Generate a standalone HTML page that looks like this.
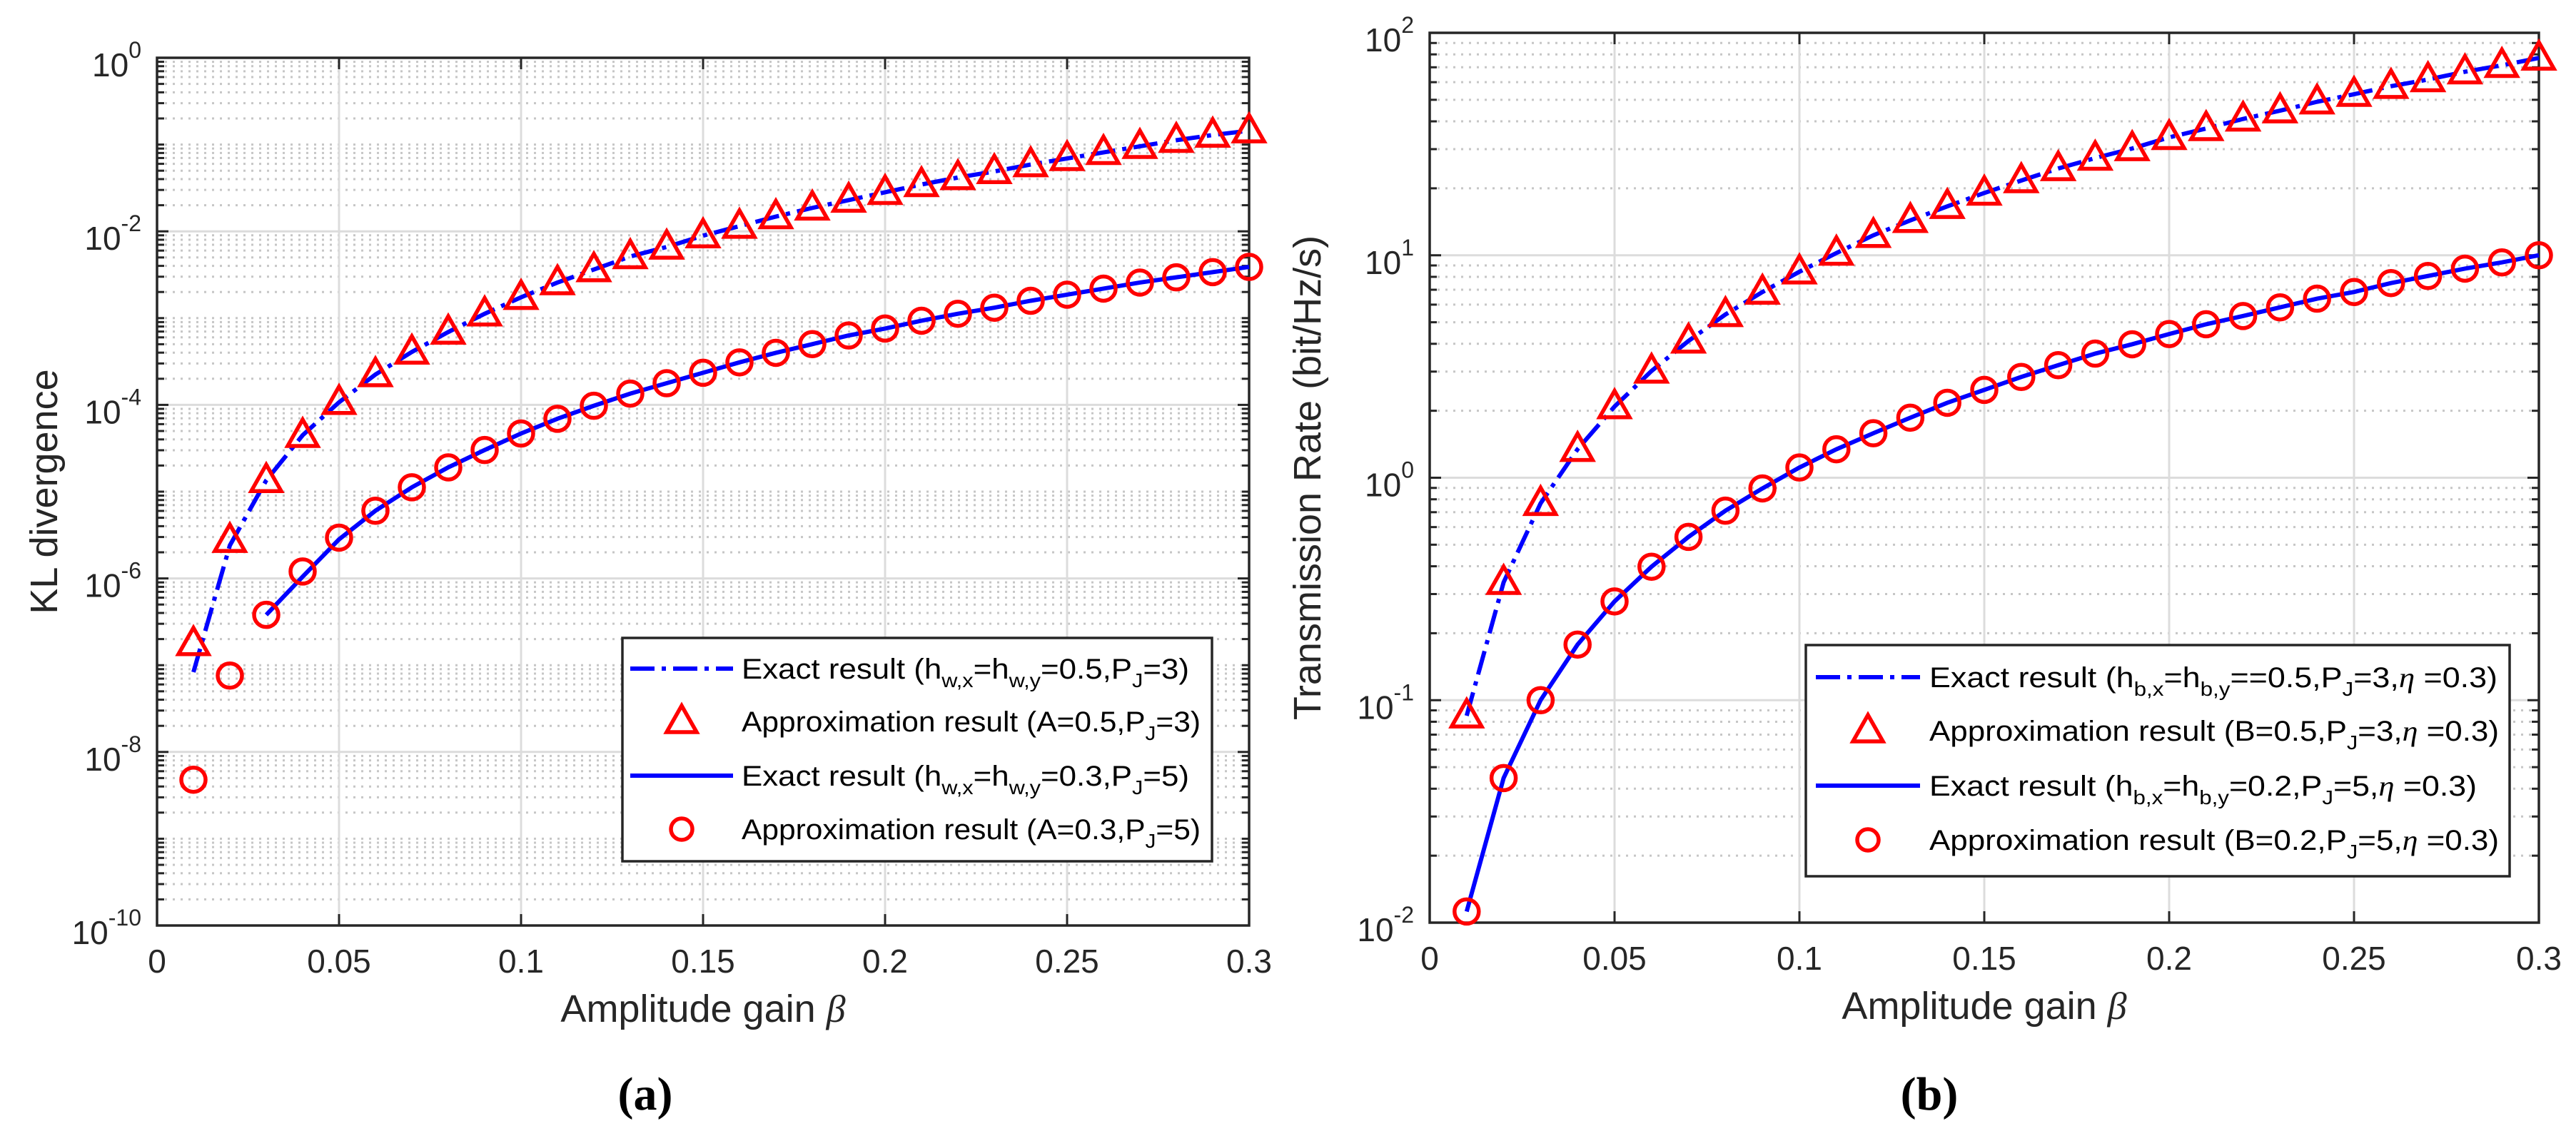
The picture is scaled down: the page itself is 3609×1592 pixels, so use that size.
<!DOCTYPE html>
<html><head><meta charset="utf-8"><style>
html,body{margin:0;padding:0;background:#fff;}
svg{display:block;font-family:"Liberation Sans",sans-serif;}
</style></head><body>
<svg id="fig" width="3609" height="1592" viewBox="0 0 3609 1592" xmlns="http://www.w3.org/2000/svg"></svg>
<script>
// ---- data ----
const betas = [0.01,0.02,0.03,0.04,0.05,0.06,0.07,0.08,0.09,0.10,0.11,0.12,0.13,0.14,0.15,0.16,0.17,0.18,0.19,0.20,0.21,0.22,0.23,0.24,0.25,0.26,0.27,0.28,0.29,0.30];
// chart (a): log10 of KL divergence
const klTriLog = [-6.75,-5.56,-4.87,-4.35,-3.97,-3.65,-3.39,-3.16,-2.95,-2.76,-2.59,-2.44,-2.29,-2.18,-2.05,-1.94,-1.83,-1.73,-1.64,-1.55,-1.46,-1.38,-1.31,-1.23,-1.16,-1.09,-1.02,-0.95,-0.89,-0.84];
const klExactALog = [-7.08,-5.62,-4.87,-4.35,-3.97,-3.65,-3.39,-3.16,-2.95,-2.76,-2.59,-2.44,-2.29,-2.18,-2.05,-1.94,-1.83,-1.73,-1.64,-1.55,-1.46,-1.38,-1.31,-1.23,-1.16,-1.09,-1.02,-0.95,-0.89,-0.84];
const klCircLog = [-8.32,-7.12,-6.42,-5.92,-5.53,-5.22,-4.95,-4.72,-4.52,-4.33,-4.16,-4.01,-3.87,-3.75,-3.63,-3.51,-3.40,-3.30,-3.20,-3.12,-3.03,-2.95,-2.88,-2.80,-2.73,-2.66,-2.59,-2.53,-2.47,-2.41];
const klExactBStart = 2; // solid line starts at beta=0.03
const klExactBLog = [-6.42,-5.98,-5.55,-5.22,-4.95,-4.72,-4.52,-4.33,-4.16,-4.01,-3.87,-3.75,-3.63,-3.51,-3.40,-3.30,-3.20,-3.12,-3.03,-2.95,-2.88,-2.80,-2.73,-2.66,-2.59,-2.53,-2.47,-2.41];
// chart (b): log10 of transmission rate
const rateTriLog = [-1.07,-0.47,-0.115,0.128,0.32,0.48,0.615,0.734,0.835,0.926,1.01,1.09,1.157,1.22,1.28,1.336,1.39,1.437,1.48,1.53,1.57,1.613,1.65,1.69,1.724,1.76,1.79,1.825,1.854,1.887];
const rateCircLog = [-1.95,-1.35,-1.0,-0.75,-0.556,-0.40,-0.266,-0.148,-0.048,0.046,0.128,0.20,0.27,0.337,0.395,0.453,0.506,0.558,0.60,0.646,0.69,0.727,0.766,0.805,0.835,0.875,0.907,0.94,0.968,1.0];
const xTicks = [0,0.05,0.1,0.15,0.2,0.25,0.3];
const xTickLabels = ["0","0.05","0.1","0.15","0.2","0.25","0.3"];
const yTicksA = [0,-2,-4,-6,-8,-10];
const yTicksB = [2,1,0,-1,-2];

const NS="http://www.w3.org/2000/svg";
const svg=document.getElementById('fig');
function mk(tag,attrs,parent){const e=document.createElementNS(NS,tag);for(const k in attrs)e.setAttribute(k,attrs[k]);(parent||svg).appendChild(e);return e;}

function drawAxes(cfg){
  const g=mk('g',{});
  
  
  const {L,R,T,B,xmin,xmax,ymin,ymax}=cfg;
  const xs=v=>L+(v-xmin)/(xmax-xmin)*(R-L);
  const ys=v=>B-(v-ymin)/(ymax-ymin)*(B-T);
  cfg.xs=xs;cfg.ys=ys;
  for(let d=ymin;d<ymax;d++){
    for(let m=2;m<=9;m++){
      const y=ys(d+Math.log10(m));
      const l=mk('line',{x1:L,x2:R,y1:y,y2:y,stroke:'#c6c6c6','stroke-width':3,'stroke-dasharray':'3 8'},g);
      
      
      mk('line',{x1:L,x2:L+10,y1:y,y2:y,stroke:'#262626','stroke-width':3},g);
      mk('line',{x1:R,x2:R-10,y1:y,y2:y,stroke:'#262626','stroke-width':3},g);
    }
    if(cfg.oddMinor && (d+1)%2!==0 && d+1<ymax){
      const y=ys(d+1);
      mk('line',{x1:L,x2:R,y1:y,y2:y,stroke:'#c6c6c6','stroke-width':3,'stroke-dasharray':'3 8'},g);
      mk('line',{x1:L,x2:L+10,y1:y,y2:y,stroke:'#262626','stroke-width':3},g);
      mk('line',{x1:R,x2:R-10,y1:y,y2:y,stroke:'#262626','stroke-width':3},g);
    }
  }
  xTicks.forEach((t,i)=>{
    const x=xs(t);
    const l=mk('line',{x1:x,x2:x,y1:T,y2:B,stroke:'#dcdcdc','stroke-width':3},g);
    
    
    mk('line',{x1:x,x2:x,y1:B,y2:B-16,stroke:'#262626','stroke-width':3},g);
    mk('line',{x1:x,x2:x,y1:T,y2:T+16,stroke:'#262626','stroke-width':3},g);
    const tx=mk('text',{x:x,y:B+66,'text-anchor':'middle','font-size':46,fill:'#262626'},g);
    tx.textContent=xTickLabels[i];
    
    
  });
  cfg.yTicks.forEach(t=>{
    const y=ys(t);
    const l=mk('line',{x1:L,x2:R,y1:y,y2:y,stroke:'#dcdcdc','stroke-width':3},g);
    
    
    mk('line',{x1:L,x2:L+16,y1:y,y2:y,stroke:'#262626','stroke-width':3},g);
    mk('line',{x1:R,x2:R-16,y1:y,y2:y,stroke:'#262626','stroke-width':3},g);
    const tx=mk('text',{x:L-22,y:y+26,'text-anchor':'end','font-size':46,fill:'#262626'},g);
    
    
    const a=document.createElementNS(NS,'tspan');a.textContent='10';tx.appendChild(a);
    const b=document.createElementNS(NS,'tspan');b.setAttribute('dy','-26');b.setAttribute('font-size','32');b.textContent=String(t);tx.appendChild(b);
  });
  const box=mk('rect',{x:L,y:T,width:R-L,height:B-T,fill:'none',stroke:'#262626','stroke-width':3.5},g);
  
  
  const xl=mk('text',{x:(L+R)/2,y:cfg.xlabY,'text-anchor':'middle','font-size':54,fill:'#262626'},g);
  
  
  xl.appendChild(document.createTextNode('Amplitude gain '));
  const bt=document.createElementNS(NS,'tspan');bt.setAttribute('font-family','Liberation Serif');bt.setAttribute('font-style','italic');bt.textContent='β';xl.appendChild(bt);
  const yl=mk('text',{x:0,y:0,'text-anchor':'middle','font-size':54,fill:'#262626',transform:`translate(${cfg.ylabX},${(T+B)/2}) rotate(-90)`},g);
  yl.textContent=cfg.ylab;
  
  
  return g;
}
function series(cfg,xv,yv,opts){
  const pts=xv.map((x,i)=>[cfg.xs(x),cfg.ys(yv[i])]);
  const p=mk('polyline',{points:pts.map(q=>q.join(',')).join(' '),fill:'none',stroke:'#0000ff','stroke-width':6,'stroke-dasharray':opts.dash||'none'});
  
  
}
function markers(cfg,xv,yv,type,name){
  xv.forEach((x,i)=>{
    const cx=cfg.xs(x),cy=cfg.ys(yv[i]);
    let m;
    if(type==='tri') m=mk('polygon',{points:`${cx},${cy-22} ${cx-21},${cy+15} ${cx+21},${cy+15}`,fill:'none',stroke:'#ff0000','stroke-width':5.5});
    else m=mk('circle',{cx:cx,cy:cy,r:17,fill:'none',stroke:'#ff0000','stroke-width':5.5});
    
    
  });
}
function legend(x,y,w,h,entries,name){
  const g=mk('g',{});
  
  
  mk('rect',{x:x,y:y,width:w,height:h,fill:'#fff',stroke:'#262626','stroke-width':3.5},g);
  entries.forEach(e=>{
    if(e.type==='line') mk('line',{x1:e.lx1,x2:e.lx2,y1:e.cy,y2:e.cy,stroke:'#0000ff','stroke-width':6,'stroke-dasharray':e.dash||'none'},g);
    else if(e.type==='tri') mk('polygon',{points:`${e.mx},${e.cy-22} ${e.mx-21},${e.cy+15} ${e.mx+21},${e.cy+15}`,fill:'none',stroke:'#ff0000','stroke-width':5.5},g);
    else mk('circle',{cx:e.mx,cy:e.cy,r:15,fill:'none',stroke:'#ff0000','stroke-width':5.5},g);
    const t=mk('text',{x:e.tx,y:e.cy+14,'font-size':40,fill:'#000',textLength:e.tw,lengthAdjust:'spacingAndGlyphs'},g);
    
    
    t.innerHTML=e.html;
  });
}
const sub=s=>`<tspan dy="12" font-size="28">${s}</tspan><tspan dy="-12">`;
const close='</tspan>';

// ---- chart a ----
const A={name:'chart-a',L:220,R:1750,T:81,B:1297,xmin:0,xmax:0.3,ymin:-10,ymax:0,yTicks:yTicksA,oddMinor:true,xlabY:1432,ylabX:80,ylab:'KL divergence'};
drawAxes(A);
series(A,betas,klExactALog,{dash:'34 10 6 10',name:'exact-line-a1'});
series(A,betas.slice(klExactBStart),klExactBLog,{name:'exact-line-a2'});
markers(A,betas,klTriLog,'tri','approx-triangle-a');
markers(A,betas,klCircLog,'circ','approx-circle-a');
legend(872,894,826,313,[
 {type:'line',dash:'34 10 6 10',lx1:883,lx2:1027,cy:937,tx:1039,tw:627,html:'Exact result (h'+sub('w,x')+'=h'+close+sub('w,y')+'=0.5,P'+close+sub('J')+'=3)'+close},
 {type:'tri',mx:955,cy:1011,tx:1039,tw:643,html:'Approximation result (A=0.5,P'+sub('J')+'=3)'+close},
 {type:'line',lx1:883,lx2:1027,cy:1087,tx:1039,tw:627,html:'Exact result (h'+sub('w,x')+'=h'+close+sub('w,y')+'=0.3,P'+close+sub('J')+'=5)'+close},
 {type:'circ',mx:955,cy:1162,tx:1039,tw:643,html:'Approximation result (A=0.3,P'+sub('J')+'=5)'+close}
],'legend-a');

// ---- chart b ----
const Bc={name:'chart-b',L:2003,R:3557,T:46,B:1293,xmin:0,xmax:0.3,ymin:-2,ymax:2,yTicks:yTicksB,oddMinor:false,xlabY:1428,ylabX:1850,ylab:'Transmission Rate (bit/Hz/s)'};
drawAxes(Bc);
series(Bc,betas,rateTriLog,{dash:'34 10 6 10',name:'exact-line-b1'});
series(Bc,betas,rateCircLog,{name:'exact-line-b2'});
markers(Bc,betas,rateTriLog,'tri','approx-triangle-b');
markers(Bc,betas,rateCircLog,'circ','approx-circle-b');
const eta='<tspan font-family="Liberation Serif" font-style="italic">η</tspan>';
legend(2530,904,986,324,[
 {type:'line',dash:'34 10 6 10',lx1:2544,lx2:2690,cy:949,tx:2703,tw:796,html:'Exact result (h'+sub('b,x')+'=h'+close+sub('b,y')+'==0.5,P'+close+sub('J')+'=3,'+close+eta+' =0.3)'},
 {type:'tri',mx:2617,cy:1024,tx:2703,tw:798,html:'Approximation result (B=0.5,P'+sub('J')+'=3,'+close+eta+' =0.3)'},
 {type:'line',lx1:2544,lx2:2690,cy:1101,tx:2703,tw:767,html:'Exact result (h'+sub('b,x')+'=h'+close+sub('b,y')+'=0.2,P'+close+sub('J')+'=5,'+close+eta+' =0.3)'},
 {type:'circ',mx:2617,cy:1177,tx:2703,tw:798,html:'Approximation result (B=0.2,P'+sub('J')+'=5,'+close+eta+' =0.3)'}
],'legend-b');

const ca=mk('text',{x:904,y:1555,'text-anchor':'middle','font-size':66,'font-family':'Liberation Serif','font-weight':'bold',fill:'#000'});
ca.textContent='(a)';


const cb=mk('text',{x:2703,y:1555,'text-anchor':'middle','font-size':66,'font-family':'Liberation Serif','font-weight':'bold',fill:'#000'});
cb.textContent='(b)';


</script>
</body></html>
